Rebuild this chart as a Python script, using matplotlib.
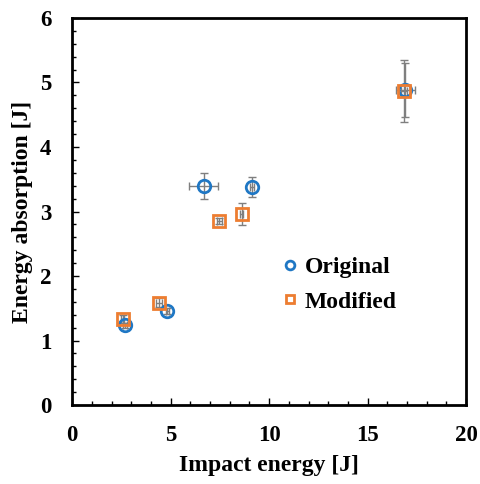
import matplotlib
matplotlib.use("Agg")
import matplotlib.pyplot as plt
from matplotlib.ticker import MultipleLocator

plt.rcParams['font.family'] = ['Liberation Serif', 'DejaVu Serif']
plt.rcParams['font.weight'] = 'bold'

orig_x = [2.68, 4.84, 6.67, 9.12, 16.92]
orig_y = [1.24, 1.46, 3.39, 3.38, 4.88]
orig_xerr = [0.08, 0.10, 0.76, 0.10, 0.50]
orig_yerr = [0.04, 0.05, 0.20, 0.16, 0.42]

mod_x = [2.57, 4.42, 7.48, 8.61, 16.85]
mod_y = [1.33, 1.59, 2.85, 2.96, 4.87]
mod_xerr = [0.08, 0.15, 0.12, 0.08, 0.15]
mod_yerr = [0.06, 0.07, 0.05, 0.17, 0.48]

blue = '#1f77c4'
orange = '#ED7D31'

fig = plt.figure(figsize=(4.81, 4.84), dpi=100)
ax = fig.add_axes([0.150, 0.163, 0.819, 0.800])

ax.errorbar(mod_x, mod_y, xerr=mod_xerr, yerr=mod_yerr, fmt='none',
            ecolor='#7f7f7f', elinewidth=1, capsize=3, capthick=1, zorder=2)
ax.errorbar(orig_x, orig_y, xerr=orig_xerr, yerr=orig_yerr, fmt='none',
            ecolor='#7f7f7f', elinewidth=1, capsize=3, capthick=1, zorder=2)
ax.plot(orig_x, orig_y, 'o', ms=9, mfc='none', mec=blue, mew=2, label='Original', zorder=3)
ax.plot(mod_x, mod_y, 's', ms=9, mfc='none', mec=orange, mew=2, label='Modified', zorder=3)

ax.set_xlim(0, 20)
ax.set_ylim(0, 6)
ax.xaxis.set_major_locator(MultipleLocator(5))
ax.xaxis.set_minor_locator(MultipleLocator(1))
ax.yaxis.set_major_locator(MultipleLocator(1))
ax.yaxis.set_minor_locator(MultipleLocator(0.2))
ax.tick_params(which='both', direction='in', labelsize=16.5, width=1)
ax.tick_params(which='major', length=5)
ax.tick_params(axis='x', which='major', pad=14)
ax.tick_params(axis='y', which='major', pad=15)
ax.tick_params(which='minor', length=3)
for s in ax.spines.values():
    s.set_linewidth(2)

ax.set_xlabel('Impact energy [J]', fontsize=17, fontweight='bold', labelpad=7)
ax.set_ylabel('Energy absorption [J]', fontsize=17, fontweight='bold', labelpad=5)

ax.legend(loc='upper left', bbox_to_anchor=(0.50, 0.407), frameon=False,
          fontsize=17, handletextpad=0.1, labelspacing=0.53, borderaxespad=0,
          markerscale=0.7, handlelength=1.0)

fig.savefig('out.png', dpi=100)
